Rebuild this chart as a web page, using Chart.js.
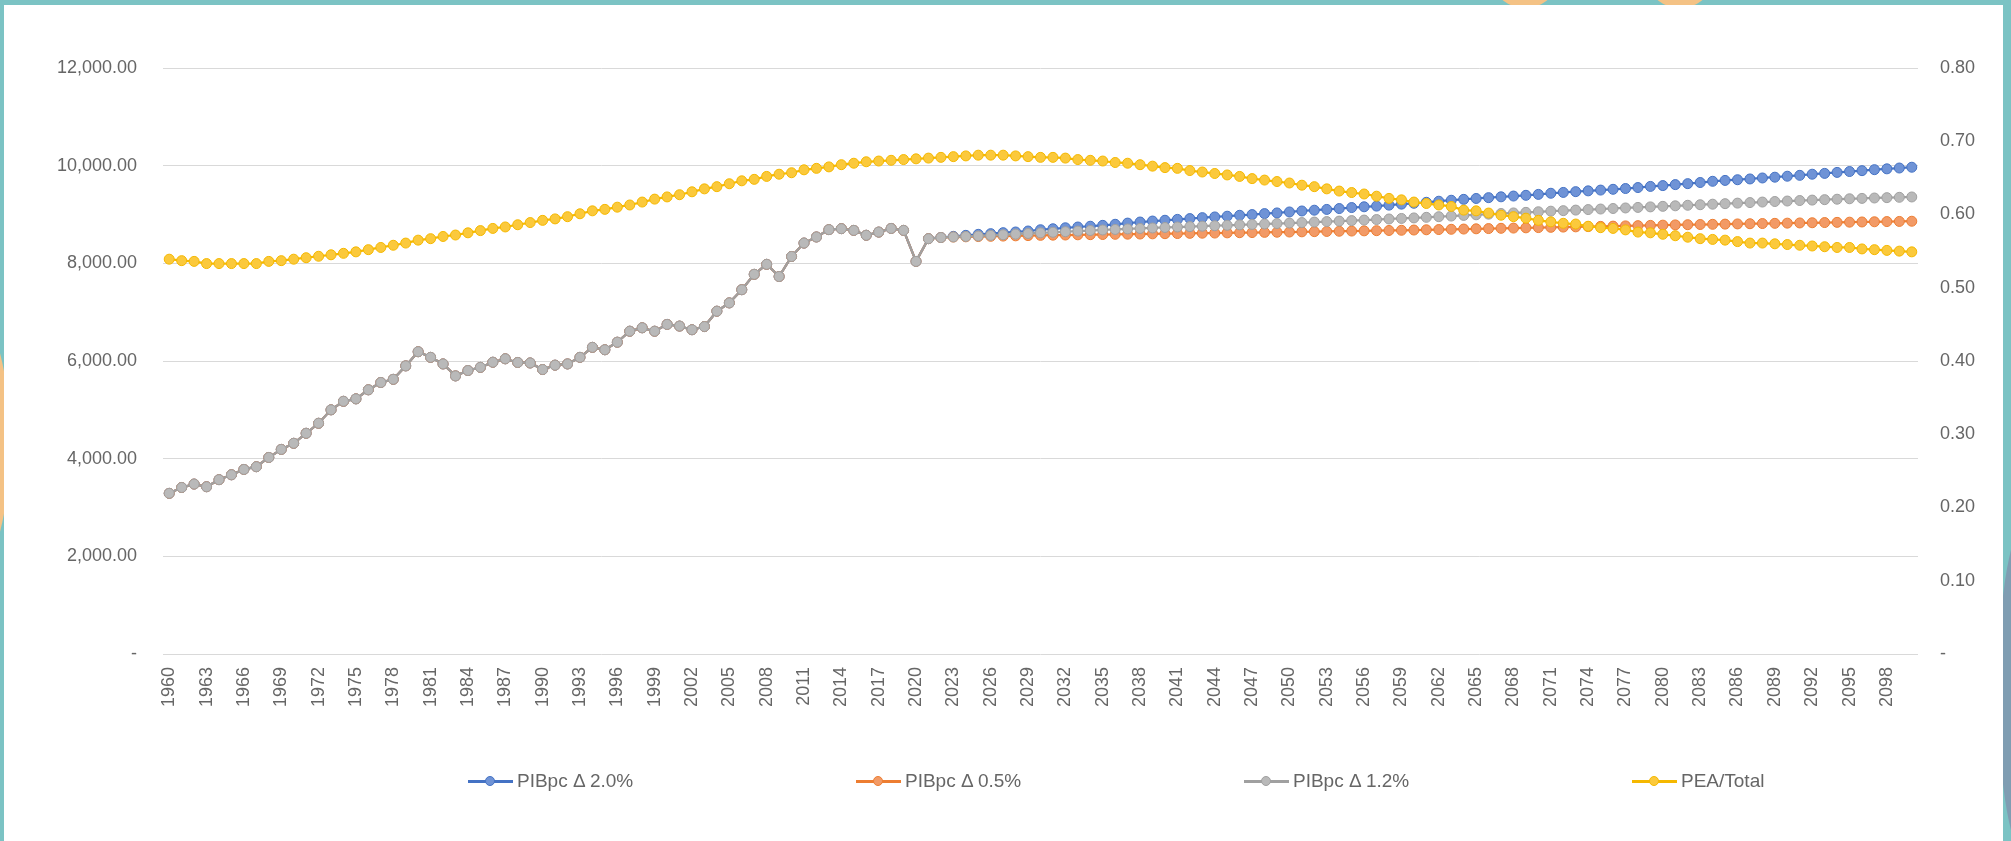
<!DOCTYPE html>
<html>
<head>
<meta charset="utf-8">
<script src="https://cdn.jsdelivr.net/npm/chart.js@4.4.1/dist/chart.umd.min.js"></script>
<style>
  html, body { margin: 0; padding: 0; }
  body {
    width: 2011px; height: 841px; position: relative; overflow: hidden;
    background: #7bc3c4; font-family: "Liberation Sans", Arial, sans-serif;
  }
  .blob { position: absolute; border-radius: 50%; }
  #panel { position: absolute; left: 4px; top: 5px; width: 1999px; height: 836px; background: #fff; }
  #chartBox { position: absolute; left: 0; top: 0; width: 1999px; height: 836px; }
  #legend { position: absolute; left: 464px; top: 765px; display: flex; }
  #legend .item { display: flex; align-items: center; width: 388px; font-size: 19px; color: #666; height: 22px; }
  #legend .mark { position: relative; width: 45px; height: 14px; margin-right: 4px; flex: none; }
  #legend .mark i { position: absolute; left: 0; right: 0; top: 6px; height: 3px; background: var(--c); }
  #legend .mark b { position: absolute; left: 17px; top: 2px; width: 8px; height: 8px; border-radius: 50%; background: var(--f); border: 1px solid var(--c); }
</style>
</head>
<body>
<div class="blob" style="left:-60px; top:315px; width:70px; height:255px; background:#f4c285;"></div>
<div class="blob" style="left:1495px; top:-40px; width:60px; height:48px; background:#f4c285;"></div>
<div class="blob" style="left:1650px; top:-40px; width:60px; height:48px; background:#f4c285;"></div>
<div class="blob" style="left:1998px; top:520px; width:60px; height:340px; background:#7f9db2;"></div>
<div id="panel">
  <div id="chartBox"><canvas id="grafico"></canvas></div>
  <div id="legend"></div>
</div>
<script>
// anos 1960 - 2100
const anos = Array.from({ length: 141 }, (_, i) => String(1960 + i));

// PIB per capita historico 1960 - 2020
const pibHistorico = [
    3290, 3410, 3480, 3425, 3570, 3670, 3780, 3835, 4025, 4190,
    4315, 4520, 4725, 5000, 5175, 5225, 5410, 5560, 5625, 5900,
    6190, 6075, 5940, 5695, 5805, 5870, 5975, 6045, 5970, 5960,
    5825, 5915, 5940, 6075, 6280, 6230, 6385, 6610, 6680, 6610,
    6750, 6715, 6640, 6705, 7020, 7190, 7460, 7775, 7980, 7730,
    8140, 8415, 8540, 8690, 8710, 8675, 8575, 8640, 8715, 8675,
    8040
];

// proyecciones 2021 - 2100
const proy20 = [
    8505, 8530, 8553, 8573, 8594, 8608, 8628, 8642, 8662, 8688,
    8708, 8728, 8744, 8760, 8778, 8800, 8824, 8846, 8866, 8882,
    8900, 8916, 8936, 8950, 8965, 8984, 8998, 9018, 9032, 9052,
    9072, 9088, 9104, 9122, 9142, 9158, 9172, 9192, 9212, 9230,
    9250, 9272, 9292, 9310, 9328, 9345, 9362, 9378, 9393, 9412,
    9435, 9452, 9468, 9484, 9500, 9516, 9532, 9552, 9575, 9592,
    9612, 9632, 9655, 9680, 9698, 9712, 9728, 9748, 9764, 9784,
    9802, 9825, 9842, 9862, 9880, 9898, 9918, 9935, 9952, 9968
];
const proy05 = [
    8505, 8528, 8538, 8543, 8548, 8553, 8558, 8563, 8568, 8573,
    8577, 8580, 8584, 8587, 8590, 8594, 8597, 8600, 8604, 8607,
    8610, 8614, 8617, 8620, 8624, 8627, 8630, 8634, 8637, 8641,
    8645, 8649, 8653, 8657, 8661, 8665, 8669, 8673, 8677, 8682,
    8687, 8692, 8697, 8702, 8707, 8712, 8717, 8722, 8727, 8732,
    8737, 8742, 8747, 8752, 8757, 8762, 8767, 8772, 8777, 8782,
    8787, 8791, 8795, 8799, 8803, 8807, 8811, 8815, 8819, 8823,
    8827, 8831, 8835, 8839, 8843, 8847, 8851, 8855, 8858, 8862
];
const proy12 = [
    8505, 8528, 8540, 8550, 8560, 8572, 8585, 8598, 8611, 8624,
    8636, 8648, 8660, 8672, 8683, 8694, 8704, 8714, 8724, 8734,
    8744, 8752, 8761, 8770, 8779, 8788, 8797, 8806, 8815, 8825,
    8835, 8845, 8855, 8865, 8875, 8886, 8897, 8908, 8919, 8930,
    8942, 8955, 8968, 8981, 8994, 9007, 9020, 9032, 9044, 9056,
    9068, 9079, 9090, 9101, 9112, 9123, 9134, 9145, 9156, 9167,
    9178, 9189, 9200, 9211, 9222, 9233, 9244, 9255, 9266, 9276,
    9286, 9295, 9304, 9313, 9322, 9330, 9338, 9345, 9352, 9359
];

// PEA / poblacion total 1960 - 2100 (eje derecho)
const peaTotal = [
    0.539, 0.537, 0.536, 0.533, 0.533, 0.533, 0.533, 0.533, 0.536, 0.537,
    0.539, 0.541, 0.543, 0.545, 0.547, 0.549, 0.552, 0.555, 0.558, 0.561,
    0.565, 0.567, 0.570, 0.572, 0.575, 0.578, 0.581, 0.583, 0.586, 0.589,
    0.592, 0.594, 0.597, 0.601, 0.605, 0.607, 0.610, 0.613, 0.617, 0.621,
    0.624, 0.627, 0.631, 0.635, 0.638, 0.642, 0.646, 0.648, 0.652, 0.655,
    0.657, 0.661, 0.663, 0.665, 0.668, 0.670, 0.672, 0.673, 0.674, 0.675,
    0.676, 0.677, 0.678, 0.679, 0.680, 0.681, 0.681, 0.681, 0.680, 0.679,
    0.678, 0.678, 0.677, 0.675, 0.674, 0.673, 0.671, 0.670, 0.668, 0.666,
    0.664, 0.663, 0.660, 0.658, 0.656, 0.654, 0.652, 0.649, 0.647, 0.645,
    0.643, 0.640, 0.638, 0.635, 0.632, 0.630, 0.628, 0.625, 0.622, 0.620,
    0.617, 0.615, 0.613, 0.611, 0.606, 0.605, 0.602, 0.599, 0.597, 0.595,
    0.592, 0.590, 0.588, 0.587, 0.584, 0.582, 0.581, 0.579, 0.576, 0.575,
    0.573, 0.571, 0.569, 0.567, 0.566, 0.565, 0.563, 0.561, 0.561, 0.560,
    0.559, 0.558, 0.557, 0.556, 0.555, 0.555, 0.553, 0.552, 0.551, 0.550,
    0.549
];

const serie = (label, data, color, fill, order, yAxisID) => ({
    label, data, yAxisID, order,
    borderColor: color,
    backgroundColor: fill,
    pointBackgroundColor: fill,
    pointBorderColor: color,
    borderWidth: 2.25,
    pointRadius: 5,
    pointBorderWidth: 1,
    tension: 0,
});

const datasets = [
    serie("PIBpc Δ 2.0%", pibHistorico.concat(proy20), "#4472c4", "#6f93d6", 3, "y"),
    serie("PIBpc Δ 0.5%", pibHistorico.concat(proy05), "#ed7d31", "#f29a66", 2, "y"),
    serie("PIBpc Δ 1.2%", pibHistorico.concat(proy12), "#a0a0a0", "#b9b9b9", 1, "y"),
    serie("PEA/Total", peaTotal, "#f5b800", "#fbc93c", 0, "y1"),
];

const fuente = { family: "Liberation Sans", size: 18 };
const gris = "#666666";

const chart = new Chart(document.getElementById("grafico"), {
    type: "line",
    data: { labels: anos, datasets },
    options: {
        responsive: true,
        maintainAspectRatio: false,
        animation: false,
        layout: { padding: { top: 63 } },
        plugins: { legend: { display: false }, tooltip: { mode: "index", intersect: false } },
        scales: {
            x: {
                offset: true,
                grid: { display: false, drawTicks: false },
                border: { display: false },
                ticks: {
                    autoSkip: false, maxRotation: 90, minRotation: 90, padding: 13,
                    color: gris, font: fuente,
                    callback: (v, i) => (i % 3 === 0 ? anos[i] : ""),
                },
                afterFit: (s) => { s.height = 187; },
            },
            y: {
                position: "left", min: 0, max: 12000,
                grid: { color: "#d9d9d9", drawTicks: false },
                border: { display: false },
                ticks: {
                    stepSize: 2000, padding: 26, color: gris, font: fuente,
                    callback: (v) => v === 0 ? "-" : v.toLocaleString("en-US", { minimumFractionDigits: 2, maximumFractionDigits: 2 }),
                },
                afterFit: (s) => { s.width = 159; },
            },
            y1: {
                position: "right", min: 0, max: 0.8,
                grid: { display: false, drawTicks: false },
                border: { display: false },
                ticks: {
                    stepSize: 0.1, padding: 22, color: gris, font: fuente,
                    callback: (v) => Math.abs(v) < 1e-9 ? "-" : v.toFixed(2),
                },
                afterFit: (s) => { s.width = 85; },
            },
        },
    },
});

// leyenda en html, espaciada como en el original
const leyenda = document.getElementById("legend");
chart.data.datasets.forEach((ds) => {
    const item = document.createElement("div");
    item.className = "item";
    item.innerHTML = `<span class="mark" style="--c:${ds.borderColor};--f:${ds.pointBackgroundColor}"><i></i><b></b></span><span>${ds.label}</span>`;
    leyenda.appendChild(item);
});
</script>
</body>
</html>
